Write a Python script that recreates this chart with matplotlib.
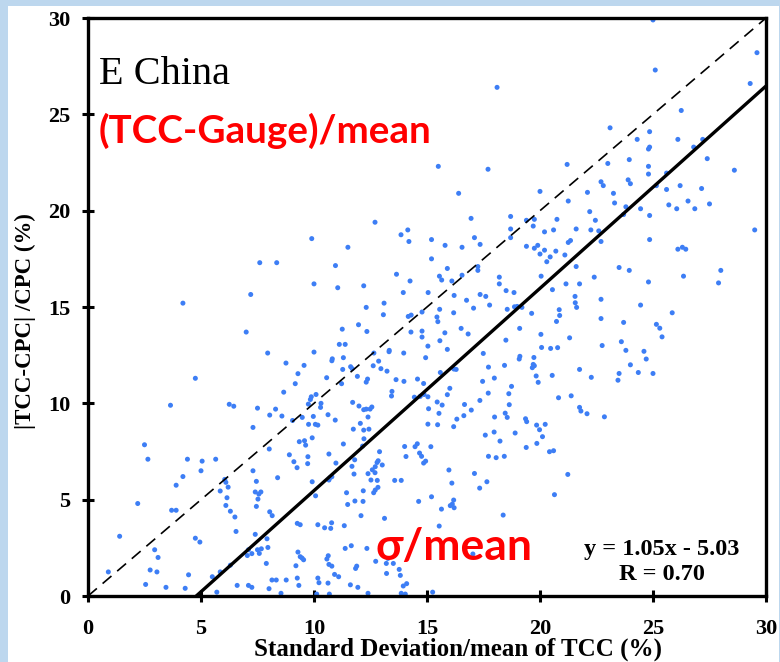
import numpy as np
import matplotlib
matplotlib.use("Agg")
import matplotlib.pyplot as plt
from matplotlib.patches import Rectangle

# Datos (x: sigma/mean de TCC, y: |TCC-CPC|/CPC), en %
sd_mean = [
    25.0, 29.6, 25.1, 29.3, 26.25, 23.1, 24.85, 24.3, 26.1, 27.2,
    26.8, 24.85, 24.8, 23.95, 27.4, 23.0, 24.8, 28.6, 24.8, 25.6,
    22.7, 22.8, 23.9, 24.0, 26.2, 25.15, 25.6, 27.15, 23.25, 23.3,
    26.55, 25.7, 26.05, 26.85, 27.5, 23.8, 24.45, 23.7, 24.85, 22.6,
    22.7, 24.85, 29.5, 26.1, 26.3, 26.45, 23.5, 23.95, 26.35, 28.0,
    27.9, 24.8, 22.7,
    24.45, 25.85, 22.7, 23.7, 25.15, 25.3, 25.4, 22.75, 23.6, 23.8,
    24.6, 24.7, 24.0, 24.35, 25.0, 23.5, 23.45, 22.85,
    18.1, 15.5, 17.7, 21.2, 16.4, 20.0, 22.1, 21.25, 16.95, 18.7,
    19.4, 19.75, 19.7, 20.75, 22.2, 22.45, 18.7, 20.2, 20.6, 21.6,
    22.25, 15.2, 17.1, 18.7, 15.8, 16.55, 17.35, 19.4, 19.9, 19.75,
    20.2, 20.7, 20.0, 21.1, 21.25, 21.35, 20.45, 20.3, 15.2, 15.9,
    17.25, 17.25, 21.6, 15.55, 15.65, 16.55, 16.1, 18.2, 20.05, 22.4,
    18.2, 20.55, 21.15, 21.75, 15.05, 16.2, 17.35, 17.6, 18.5, 18.85,
    21.55, 16.75,
    12.7, 9.9, 11.5, 13.85, 14.15, 14.2, 7.6, 8.35, 10.95, 13.65,
    14.25, 10.0, 11.05, 12.2, 13.95, 7.2, 4.2,
    7.0, 4.75, 3.65, 6.25, 6.45, 7.5, 7.3, 2.5, 2.65, 4.4,
    5.05, 5.65, 5.0, 7.3, 4.2, 3.9, 6.05, 6.1, 6.2, 5.85,
    7.45, 6.15, 7.4, 6.1, 6.3, 7.45, 2.2, 3.7, 3.9, 6.5,
    1.4, 4.75, 4.95, 6.55, 7.4, 2.95, 3.1, 7.1, 7.05, 7.25,
    7.5, 6.3, 2.75, 3.05, 0.9, 4.45, 5.5, 5.85, 2.55, 3.45,
    4.3, 5.7, 6.6, 7.1, 7.25,
    12.31, 13.1, 13.07, 14.17, 14.3, 14.78, 11.97, 11.25, 12.34, 14.29,
    14.78, 14.78, 11.12, 11.38, 7.95, 10.0, 10.81, 10.79, 11.3, 12.65,
    13.33, 13.32, 13.97, 14.94, 8.76, 9.56, 11.27, 11.62, 11.69, 11.92,
    12.62, 12.86, 12.96, 13.23, 9.29, 10.56, 11.22, 12.31, 12.37, 13.63,
    13.98, 14.58, 14.85, 8.66, 9.17, 9.88, 9.84, 10.09, 9.75, 10.31,
    10.29, 13.45, 13.43, 14.44, 14.7, 14.87, 8.04, 8.3, 8.58, 9.05,
    9.48, 9.97, 10.62, 10.94, 11.71, 11.99, 12.2, 12.31, 12.56, 12.48,
    12.39, 11.74, 12.05, 12.2, 12.43, 9.76, 10.06, 10.17, 9.92, 9.35,
    9.58, 9.63, 8.02, 11.3, 12.21, 12.15, 12.9, 8.91, 9.73, 9.11,
    9.25, 9.72, 10.66, 10.97, 11.8, 11.68, 12.79, 12.84, 13.02, 12.71,
    12.58, 12.7, 14.01, 14.07, 14.47, 14.57, 14.67, 14.76, 14.85, 14.94,
    8.39, 10.71, 10.79, 10.66, 11.77, 9.92, 12.52, 12.8, 12.83, 12.64,
    12.71, 13.57, 13.86, 12.39, 11.44, 12.18, 7.65, 7.56, 7.52, 10.07,
    11.49, 11.81, 12.17, 14.63, 8.04, 8.15, 12.08, 13.12, 9.26, 9.39,
    10.17, 10.47, 10.74, 10.78, 11.34, 7.67, 7.96, 7.58, 7.92, 11.38,
    11.65, 12.34, 9.29, 9.39, 9.54, 9.47, 10.63, 10.57, 10.66, 10.79,
    7.89, 9.2, 11.89, 11.84, 12.73, 13.2, 13.27, 13.51, 10.91, 11.09,
    10.17, 10.22, 8.14, 8.33, 8.77, 9.26, 9.33, 8.01, 8.54, 10.62,
    11.61, 11.94, 13.21, 13.77, 13.82, 13.95, 14.1, 13.86, 14.04, 10.12,
    10.68, 12.39,
    17.77, 17.06, 15.56, 16.18, 18.55, 18.87, 18.99, 19.2, 19.63, 20.85,
    20.87, 20.73, 21.56, 21.62, 15.44, 15.48, 16.51, 15.79, 16.82, 19.1,
    15.57, 15.04, 18.49, 20.04, 21.31, 15.9, 17.49, 20.07, 20.47, 20.78,
    19.11, 19.08, 19.73, 19.7, 19.75, 19.66, 17.72, 18.43, 16.19, 16.29,
    15.59, 17.98, 19.83, 19.92, 20.54, 21.75, 22.27, 17.46, 16.01, 18.74,
    17.71, 18.62, 15.9, 15.04, 17.34, 15.45, 15.67, 20.82, 21.38, 18.64,
    16.66, 16.96, 15.07, 15.53, 18.46, 18.55, 17.99, 16.63, 16.32, 19.36,
    19.41, 21.75, 21.81, 22.08, 15.04, 15.47, 16.18, 19.85, 20.23, 19.98,
    17.97, 17.58, 18.9, 18.23, 20.11, 19.86, 19.39, 15.17, 20.42, 20.6,
    17.72, 18.06, 18.42, 15.97, 17.1, 21.23, 16.1, 17.65, 17.33, 20.64,
    15.2, 16.18, 16.12, 16.03, 16.2, 15.64, 18.37, 15.54, 17.03, 15.25,
]
rel_diff = [
    29.9, 28.2, 27.3, 26.6, 25.2, 24.3, 24.1, 23.7, 23.7, 23.7,
    23.3, 23.3, 23.2, 22.65, 22.7, 22.45, 22.3, 22.1, 21.9, 21.95,
    21.5, 21.3, 21.6, 21.4, 21.3, 21.3, 21.1, 21.15, 20.9, 20.4,
    20.5, 20.3, 20.1, 20.1, 20.35, 20.2, 20.1, 19.8, 19.75, 18.95,
    18.4, 18.5, 19.0, 18.0, 18.1, 18.0, 17.05, 16.9, 16.6, 16.9,
    16.25, 16.3, 15.4,
    15.1, 14.7, 14.4, 14.2, 14.1, 13.9, 13.45, 13.0, 13.2, 12.75,
    12.7, 12.3, 12.0, 11.6, 11.55, 11.55, 11.2, 9.3,
    26.4, 22.3, 22.15, 22.4, 20.9, 21.0, 20.95, 20.5, 19.6, 19.7,
    19.5, 19.55, 19.2, 19.55, 19.95, 19.5, 19.05, 18.9, 19.0, 19.05,
    19.0, 18.5, 18.6, 18.6, 18.2, 18.1, 18.25, 18.15, 18.2, 18.05,
    17.95, 17.9, 17.75, 17.7, 18.35, 18.45, 17.6, 17.35, 17.5, 17.0,
    17.1, 16.9, 17.1, 16.6, 16.4, 16.65, 16.35, 16.55, 16.6, 16.55,
    16.2, 15.9, 16.2, 16.2, 15.75, 15.6, 15.65, 15.55, 15.85, 15.75,
    15.55, 15.35,
    19.4, 18.55, 18.1, 18.75, 19.0, 18.4, 17.3, 17.3, 17.15, 16.7,
    16.35, 16.2, 16.0, 16.1, 15.75, 15.65, 15.2,
    13.7, 11.3, 9.9, 9.95, 9.85, 9.75, 8.75, 7.85, 7.1, 7.1,
    7.0, 7.1, 6.5, 6.5, 6.2, 5.75, 6.05, 5.9, 5.65, 5.45,
    5.95, 5.1, 5.4, 4.7, 4.4, 4.65, 4.8, 4.45, 4.45, 4.1,
    3.1, 3.0, 2.8, 3.35, 3.2, 2.4, 2.0, 2.4, 2.1, 2.2,
    2.4, 1.6, 1.35, 1.25, 1.25, 1.1, 1.0, 1.25, 0.6, 0.45,
    0.4, 0.2, 0.55, 0.55, 0.45,
    14.98, 15.2, 14.6, 14.51, 14.58, 14.74, 14.08, 13.85, 13.73, 13.7,
    13.75, 13.44, 13.06, 13.06, 12.61, 12.66, 12.31, 12.21, 12.37, 12.61,
    12.75, 12.68, 12.61, 12.37, 12.09, 11.97, 11.76, 11.9, 11.8, 11.4,
    11.95, 12.19, 11.8, 11.67, 11.54, 11.33, 11.02, 11.1, 11.26, 11.23,
    11.14, 11.26, 11.03, 10.58, 11.02, 10.34, 10.2, 10.46, 9.96, 10.0,
    9.79, 10.62, 10.38, 10.32, 10.36, 10.46, 9.39, 9.7, 9.34, 9.11,
    9.27, 9.32, 9.41, 9.13, 10.05, 9.86, 9.67, 9.7, 9.81, 9.7,
    9.29, 8.66, 8.96, 8.61, 8.66, 8.91, 8.91, 8.87, 8.21, 8.01,
    8.06, 7.83, 7.63, 7.89, 8.16, 7.78, 7.49, 7.33, 7.23, 6.97,
    6.66, 6.87, 7.37, 6.9, 7.07, 6.73, 6.93, 7.02, 6.8, 6.71,
    6.55, 6.4, 7.76, 7.24, 7.75, 7.9, 7.42, 7.25, 6.9, 7.0,
    6.14, 6.14, 6.19, 6.02, 6.33, 5.93, 6.02, 6.0, 5.64, 5.36,
    5.5, 6.0, 6.0, 6.35, 5.36, 5.46, 5.4, 5.29, 5.03, 5.2,
    4.75, 4.93, 4.91, 4.91, 4.37, 4.17, 4.17, 4.03, 3.77, 3.7,
    3.7, 3.54, 3.51, 3.8, 3.65, 2.45, 2.52, 2.21, 2.97, 2.47,
    2.61, 2.47, 2.28, 2.04, 1.88, 1.97, 2.09, 1.92, 1.64, 1.55,
    1.69, 1.57, 1.55, 1.43, 1.8, 1.69, 1.95, 1.69, 1.12, 1.0,
    0.93, 0.69, 0.83, 0.83, 0.83, 0.93, 0.55, 0.38, 0.14, 0.67,
    0.58, 0.45, 1.17, 1.38, 1.07, 0.52, 0.64, 0.14, 0.1, 0.1,
    0.1, 0.14,
    15.1, 14.94, 14.88, 14.7, 14.88, 15.01, 15.03, 14.98, 14.67, 14.86,
    14.56, 14.25, 15.22, 14.98, 14.48, 14.24, 13.89, 13.66, 13.6, 13.89,
    13.25, 12.97, 13.28, 13.58, 13.4, 12.8, 12.59, 12.9, 12.85, 12.89,
    12.44, 12.3, 12.38, 12.02, 11.95, 11.85, 11.88, 11.97, 11.78, 11.76,
    11.6, 11.31, 11.42, 11.09, 11.45, 11.76, 11.35, 11.14, 10.78, 10.88,
    10.53, 10.5, 10.45, 10.34, 10.15, 10.07, 9.91, 10.29, 10.39, 9.93,
    9.94, 9.65, 9.72, 9.48, 9.49, 9.27, 9.29, 9.36, 9.18, 9.2,
    9.05, 9.79, 9.6, 9.46, 8.92, 8.89, 8.79, 8.87, 8.91, 8.63,
    8.51, 8.35, 8.46, 8.04, 8.27, 7.92, 7.71, 7.75, 7.49, 7.54,
    7.25, 7.18, 7.25, 6.54, 6.36, 6.31, 5.86, 5.93, 5.6, 5.26,
    5.15, 4.98, 4.77, 4.69, 4.58, 4.51, 4.2, 3.63, 2.18, 0.2,
]

# Ajuste lineal mostrado en la figura
slope = 1.05
intercept = -5.03
r_value = 0.70

x_ticks = [0, 5, 10, 15, 20, 25, 30]
y_ticks = [0, 5, 10, 15, 20, 25, 30]

plt.rcParams['font.family'] = ['Liberation Serif', 'DejaVu Serif']

fig = plt.figure(figsize=(7.8, 6.62), dpi=100, facecolor='#BDD7EE')
# marco blanco sobre el fondo azul claro
fig.patches.append(Rectangle((8 / 780, 0), 771 / 780, 656 / 662,
                             transform=fig.transFigure, facecolor='white',
                             edgecolor='none', zorder=-10))

ax = fig.add_axes([88 / 780, 66 / 662, 678 / 780, 578 / 662])
ax.set_zorder(1)
ax.set_facecolor('white')

ax.scatter(sd_mean, rel_diff, s=13, color='#3D7EF5', edgecolors='none', zorder=2)

# linea 1:1 y recta de regresion
ax.axline((0, 0), slope=1, color='black', lw=1.2, ls=(0, (7, 4.5)), zorder=3)
xfit = np.array([0, 30])
ax.plot(xfit, slope * xfit + intercept, color='black', lw=2.4, zorder=3)

ax.set_xlim(0, 30)
ax.set_ylim(0, 30)
ax.set_xticks(x_ticks)
ax.set_yticks(y_ticks)
ax.tick_params(axis='both', direction='inout', length=9, width=2.2, labelsize=16)
ax.tick_params(axis='x', pad=12)
ax.tick_params(axis='y', pad=8)
for lab in ax.get_xticklabels() + ax.get_yticklabels():
    lab.set_fontweight('bold')
for sp in ax.spines.values():
    sp.set_linewidth(2.4)

ax.set_xlabel('Standard Deviation/mean of TCC (%)', fontsize=18, fontweight='bold')
ax.xaxis.set_label_coords(0.545, -0.072)
ax.set_ylabel('|TCC-CPC| /CPC (%)', fontsize=16.5, fontweight='bold')
ax.yaxis.set_label_coords(-0.077, 0.475)

ax.text(0.5, 26.6, 'E China', fontsize=29, va='baseline', ha='left')
ax.text(0.45, 23.5, '(TCC-Gauge)/mean', fontsize=27.8, fontweight='bold',
        color='#FF0000', family=['Lato', 'DejaVu Sans'], va='baseline', ha='left')
ax.text(12.7, 1.85, 'σ/mean', fontsize=32, fontweight='bold',
        color='#FF0000', family=['Lato', 'DejaVu Sans'], va='baseline', ha='left', zorder=4)

ax.text(25.4, 2.15, 'y = %.2fx - %.2f' % (slope, -intercept), fontsize=17.5,
        fontweight='bold', ha='center', va='baseline')
ax.text(25.4, 0.85, 'R = %.2f' % r_value, fontsize=17.5,
        fontweight='bold', ha='center', va='baseline')

fig.savefig('out.png', dpi=100, facecolor=fig.get_facecolor())
